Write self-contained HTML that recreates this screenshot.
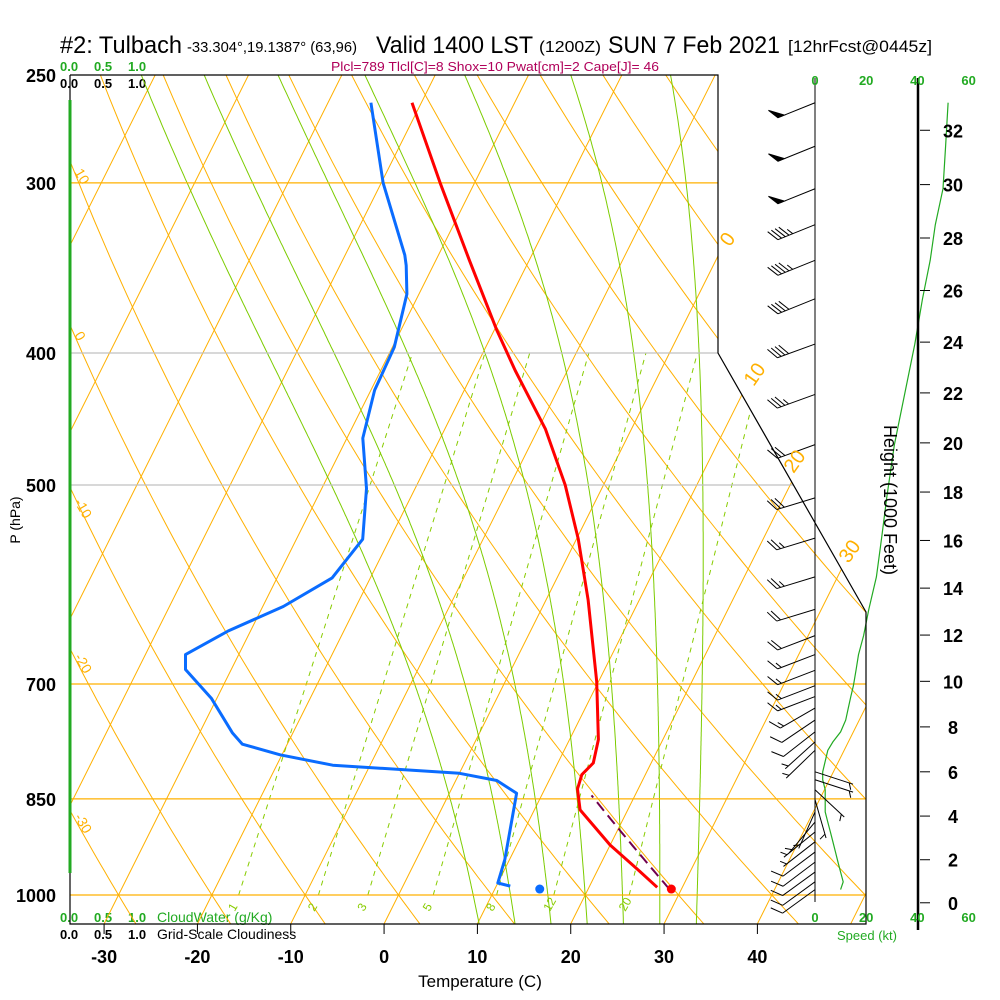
<!DOCTYPE html>
<html><head><meta charset="utf-8"><style>
html,body{margin:0;padding:0;background:#fff;width:1000px;height:1000px;overflow:hidden}
svg{display:block;font-family:"Liberation Sans",sans-serif}
</style></head><body>
<svg id="chart" width="1000" height="1000" viewBox="0 0 1000 1000" xmlns="http://www.w3.org/2000/svg">
<defs><clipPath id="plotclip"><polygon points="70,75 718,75 718,353 866,612 866,924 70,924"/></clipPath></defs>
<rect width="1000" height="1000" fill="#fff"/>
<g>
<text x="60" y="53" font-size="24" textLength="122" lengthAdjust="spacingAndGlyphs">#2: Tulbach</text>
<text x="187" y="52" font-size="15" textLength="170" lengthAdjust="spacingAndGlyphs">-33.304°,19.1387° (63,96)</text>
<text x="376" y="53" font-size="24" textLength="157" lengthAdjust="spacingAndGlyphs">Valid 1400 LST</text>
<text x="539" y="52" font-size="16" textLength="62" lengthAdjust="spacingAndGlyphs">(1200Z)</text>
<text x="608" y="53" font-size="24" textLength="172" lengthAdjust="spacingAndGlyphs">SUN 7 Feb 2021</text>
<text x="788" y="52" font-size="17" textLength="144" lengthAdjust="spacingAndGlyphs">[12hrFcst@0445z]</text>
</g>
<text x="331" y="71" font-size="13" fill="#b0005a" textLength="328" lengthAdjust="spacingAndGlyphs">Plcl=789 Tlcl[C]=8 Shox=10 Pwat[cm]=2 Cape[J]= 46</text>
<g font-size="13" font-weight="bold">
<text x="60" y="71" fill="#22aa22">0.0</text><text x="94" y="71" fill="#22aa22">0.5</text><text x="128" y="71" fill="#22aa22">1.0</text>
<text x="60" y="88">0.0</text><text x="94" y="88">0.5</text><text x="128" y="88">1.0</text>
</g>
<g font-size="13" font-weight="bold">
<text x="60" y="922" fill="#22aa22">0.0</text><text x="94" y="922" fill="#22aa22">0.5</text><text x="128" y="922" fill="#22aa22">1.0</text>
<text x="157" y="922" fill="#22aa22" font-weight="normal" font-size="14">CloudWater (g/Kg)</text>
<text x="60" y="939">0.0</text><text x="94" y="939">0.5</text><text x="128" y="939">1.0</text>
<text x="157" y="939" font-weight="normal" font-size="14">Grid-Scale Cloudiness</text>
</g>
<g id="grid" clip-path="url(#plotclip)"></g>
<g id="marks"></g>
<g id="axes"></g>
<text x="480" y="987" font-size="17" text-anchor="middle">Temperature (C)</text>
<text transform="translate(20,520) rotate(-90)" font-size="14" text-anchor="middle">P (hPa)</text>
<text transform="translate(884,500) rotate(90)" font-size="18" text-anchor="middle">Height (1000 Feet)</text>
<text x="837" y="940" font-size="13" fill="#22aa22">Speed (kt)</text>
</svg>
<script>
// ---- data ----
const tempP = [262,300,342,385,412,455,500,548,607,697,769,800,816,836,866,919,961,987];
const tempT = [-41.0,-33.7,-26.4,-19.7,-15.6,-9.2,-4.1,0.2,4.5,9.8,13.1,13.8,13.2,13.5,14.9,20.0,24.6,27.3];
const dewP = [262,300,339,345,362,396,426,462,503,548,585,614,640,666,683,717,760,775,789,803,814,824,842,942,980,985];
const dewT = [-45.4,-39.8,-33.6,-32.9,-31.3,-29.8,-29.6,-28.3,-25.2,-22.9,-24.1,-27.8,-32.4,-35.7,-34.9,-30.6,-26.5,-24.8,-20.2,-14.0,0.0,4.4,7.2,9.5,10.0,11.5];
const sfcP = 990, sfcT = 28.7, sfcTd = 14.6;
const parcelTopP = 845;
const windP = [262,282,303,322,342,365,394,429,467,511,547,584,617,645,666,684,702,715,729,744,759,772,783,812,823,837,851,869,884,899,914,930,946,962,978,991];
const windDir = [248,248,248,248,248,248,250,250,250,253,253,253,253,249,249,249,249,249,240,236,232,228,226,108,108,133,164,204,220,231,232,233,233,234,234,234];
const windSpd = [52,51,50,47,45,42,39,35,31,28,26,24,21,19,17,16,15,14,13,12,10,7,5,3,3,4,4,4,5,6,7,8,9,10,11,10];
const pressureTicks = [250,300,400,500,700,850,1000];
const tempTicks = [-30,-20,-10,0,10,20,30,40];
const heightTicks = [0,2,4,6,8,10,12,14,16,18,20,22,24,26,28,30,32];
const speedTicks = [0,20,40,60];
const isotherms = [-110,-100,-90,-80,-70,-60,-50,-40,-30,-20,-10,0,10,20,30,40,50];
const dryAdiabats = [-40,-30,-20,-10,0,10,20,30,40,50,60,70,80,90,100,110,120,130];
const moistAdiabats = [8,12,16,20,24,28,32];
const mixRatios = [1,2,3,5,8,12,20];
const isothermLabels = [0,10,20,30];
const leftLabels = [10,0,-10,-20,-30];

// ---- scales ----
const NS='http://www.w3.org/2000/svg';
function Y(p){return 75+591.5*Math.log(p/250);}
function X(T,p){return 384+9.333*T+0.5*(924-Y(p));}
function mk(tag,attrs,parent){const e=document.createElementNS(NS,tag);for(const k in attrs)e.setAttribute(k,attrs[k]);parent.appendChild(e);return e;}
const grid=document.getElementById('grid'), marks=document.getElementById('marks'), axes=document.getElementById('axes');
const OR='#ffb000';

isotherms.forEach(t=>{
  const e=mk('line',{x1:X(t,1050),y1:Y(1050),x2:X(t,240),y2:Y(240),stroke:OR,'stroke-width':1},grid);
  
  
});
dryAdiabats.forEach(th=>{
  const K=th+273.15;let d='';
  for(let p=1050;p>=240;p-=10){const T=K*Math.pow(p/1000,0.2857)-273.15;d+=(d?'L':'M')+X(T,p).toFixed(1)+','+Y(p).toFixed(1);}
  const e=mk('path',{d:d,fill:'none',stroke:OR,'stroke-width':1},grid);
  
  
});
function dTdp(T,p){const es=6.112*Math.exp(17.67*(T-273.15)/(T-29.65));const rs=0.622*es/(p-es);const Lv=2.501e6,Rd=287,cp=1005;return (Rd*T+Lv*rs)/(p*(cp+Lv*Lv*rs*0.622/(Rd*T*T)));}
moistAdiabats.forEach(tw=>{
  let pts=[];let T=tw+273.15;
  for(let p=1000;p<1050;p+=5){pts.unshift([T,p]);T+=dTdp(T,p)*5;}
  pts.unshift([T,1050]);
  T=tw+273.15;pts.push([T,1000]);
  for(let p=1000;p>240;p-=2){T-=dTdp(T,p)*2;pts.push([T,p-2]);}
  const d=pts.map((q,i)=>(i?'L':'M')+X(q[0]-273.15,q[1]).toFixed(1)+','+Y(q[1]).toFixed(1)).join('');
  const e=mk('path',{d:d,fill:'none',stroke:'#7ccc00','stroke-width':1},grid);
  
  
});
function tdFromW(w,p){const e=w*p/(622+w);const l=Math.log(e/6.112);return 243.5*l/(17.67-l);}
mixRatios.forEach(w=>{
  const e=mk('line',{x1:X(tdFromW(w,1000),1000),y1:Y(1000),x2:X(tdFromW(w,400),400),y2:Y(400),stroke:'#88cc00','stroke-width':1,'stroke-dasharray':'5,5'},grid);
  
  
  const t=mk('text',{transform:'translate('+(X(tdFromW(w,1000),1000)-4)+',912) rotate(-60)','font-size':12,fill:'#88cc00'},axes);
  t.textContent=w;
  
  
});
pressureTicks.forEach(p=>{
  if(p!==250){
  const gray=(p===400||p===500);
  const e=mk('line',{x1:70,y1:Y(p),x2:870,y2:Y(p),stroke:gray?'#c0c0c0':OR,'stroke-width':1.3},grid);
  
  
  }
  const t=mk('text',{x:56,y:Y(p)+7,'font-size':18,'font-weight':'bold','text-anchor':'end'},axes);
  t.textContent=p;
  
  
});
const isoPos=[[733,243],[760,378],[800,465],[855,555]];
isothermLabels.forEach((v,i)=>{
  const t=mk('text',{transform:'translate('+isoPos[i][0]+','+isoPos[i][1]+') rotate(-55)','font-size':20,fill:OR,'text-anchor':'middle'},axes);
  t.textContent=v;
  
  
});
const leftY=[180,343,510,665,825];
leftLabels.forEach((v,i)=>{
  const t=mk('text',{transform:'translate(74,'+(leftY[i]-8)+') rotate(60)','font-size':14,fill:OR},axes);
  t.textContent=v;
  
  
});
{const b=mk('polyline',{points:'70,75 718,75 718,353 866,612 866,924 70,924 70,75',fill:'none',stroke:'#000','stroke-width':1.2},axes);


const g=mk('line',{x1:70,y1:100,x2:70,y2:873,stroke:'#22aa22','stroke-width':3},axes);


const s=mk('line',{x1:815,y1:78,x2:815,y2:902,stroke:'#000','stroke-width':1},axes);

}
tempTicks.forEach(t=>{
  const x=X(t,1050);
  const l=mk('line',{x1:x,y1:924,x2:x,y2:934,stroke:'#000'},axes);
  
  
  const tx=mk('text',{x:x,y:963,'font-size':18,'font-weight':'bold','text-anchor':'middle'},axes);
  tx.textContent=t;
  
  
});
function pFromFt(k){const h=k*1000*0.3048;return 1013.25*Math.pow(1-6.5e-3*h/288.15,5.2559);}
{const l=mk('line',{x1:918,y1:78,x2:918,y2:930,stroke:'#000','stroke-width':2.5},axes);

}
heightTicks.forEach(k=>{
  const y=Y(pFromFt(k));
  const l=mk('line',{x1:920,y1:y,x2:930,y2:y,stroke:'#000'},axes);
  
  
  const t=mk('text',{x:953,y:y+7,'font-size':18,'font-weight':'bold','text-anchor':'middle'},axes);
  t.textContent=k;
  
  
});
function SX(s){return 815+s*2.56;}
speedTicks.forEach(s=>{
  [85,922].forEach(y=>{
    const t=mk('text',{x:SX(s),y:y,'font-size':13,fill:'#22aa22','text-anchor':'middle','font-weight':'bold'},axes);
    t.textContent=s;
    
    
  });
});
{const d=windP.map((p,i)=>(i?'L':'M')+SX(windSpd[i]).toFixed(1)+','+Y(p).toFixed(1)).join('');
const e=mk('path',{d:d,fill:'none',stroke:'#22aa22','stroke-width':1.2},marks);

}
function prof(P,T,color,name){
  const d=P.map((p,i)=>(i?'L':'M')+X(T[i],p).toFixed(1)+','+Y(p).toFixed(1)).join('');
  const e=mk('path',{d:d,fill:'none',stroke:color,'stroke-width':3,'stroke-linejoin':'round'},marks);
  
  
}
prof(tempP,tempT,'#ff0000','temperature-line');
prof(dewP,dewT,'#0a6cff','dewpoint-line');
{const K=(sfcT+273.15)*Math.pow(1000/sfcP,0.2857);let d='';
for(let p=sfcP;p>=parcelTopP;p-=5){const T=K*Math.pow(p/1000,0.2857)-273.15;d+=(d?'L':'M')+X(T,p).toFixed(1)+','+Y(p).toFixed(1);}
const e=mk('path',{d:d,fill:'none',stroke:'#70004f','stroke-width':2,'stroke-dasharray':'11,6'},marks);

}
{const c=mk('circle',{cx:X(sfcT,sfcP)+2,cy:Y(sfcP),r:4.5,fill:'#ff0000'},marks);


const c2=mk('circle',{cx:X(sfcTd,sfcP)+2,cy:Y(sfcP),r:4.5,fill:'#0a6cff'},marks);

}
windP.forEach((p,i)=>{
  const g=mk('g',{stroke:'#000','stroke-width':1,fill:'#000'},marks);
  
  
  const bx=815,by=Y(p),L=40;
  const a=windDir[i]*Math.PI/180;
  const ux=Math.sin(a), uy=-Math.cos(a);
  const ex=bx+ux*L, ey=by+uy*L;
  mk('line',{x1:bx,y1:by,x2:ex,y2:ey},g);
  const rot=60*Math.PI/180;
  const vx=ux*Math.cos(rot)-uy*Math.sin(rot), vy=ux*Math.sin(rot)+uy*Math.cos(rot);
  let s=Math.round(windSpd[i]/5)*5, pos=0;
  while(s>=50){const x0=ex-ux*pos,y0=ey-uy*pos;const x1=ex-ux*(pos+7),y1=ey-uy*(pos+7);
    mk('polygon',{points:x0+','+y0+' '+(x0+vx*12)+','+(y0+vy*12)+' '+x1+','+y1},g);pos+=9;s-=50;}
  while(s>=10){const x0=ex-ux*pos,y0=ey-uy*pos;mk('line',{x1:x0,y1:y0,x2:x0+vx*13,y2:y0+vy*13},g);pos+=4;s-=10;}
  if(s>=5){if(pos===0)pos=4;const x0=ex-ux*pos,y0=ey-uy*pos;mk('line',{x1:x0,y1:y0,x2:x0+vx*7,y2:y0+vy*7},g);}
});
</script>
</body></html>
